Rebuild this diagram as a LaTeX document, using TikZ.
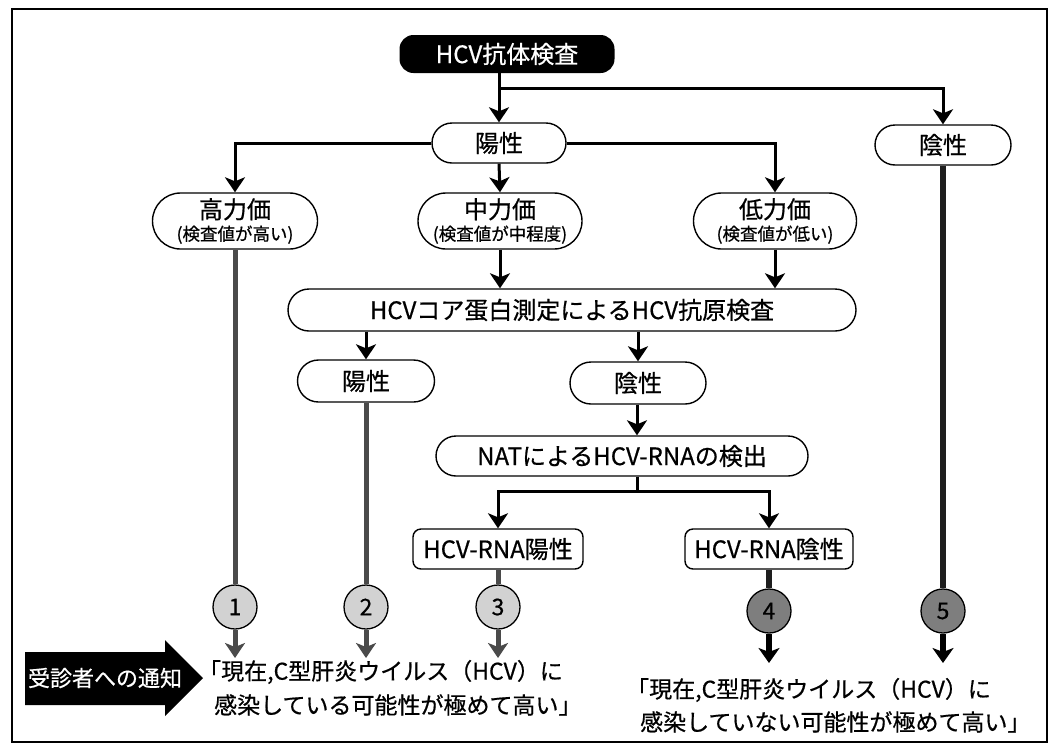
\documentclass[tikz,border=0pt]{standalone}
\usepackage{fontspec}
\setmainfont{Noto Sans CJK JP}[FakeBold=0.6]
\usetikzlibrary{arrows.meta,shapes.misc}
\definecolor{lightdot}{HTML}{D2D2D2}
\definecolor{darkdot}{HTML}{7E7E7E}
\definecolor{lightline}{HTML}{4A4A4A}
\definecolor{darkline}{HTML}{1E1E1E}
\begin{document}
\begin{tikzpicture}[x=1pt,y=-1pt,
  pill/.style={rounded rectangle, draw, line width=1.4pt, minimum height=40pt, inner sep=0pt, font=\fontsize{24}{26}\selectfont},
  tall/.style={pill, minimum height=56pt, align=center, font=\fontsize{24}{22}\selectfont},
  sq/.style={rectangle, rounded corners=8pt, draw, line width=1.4pt, minimum height=40pt, inner sep=0pt, font=\fontsize{24}{26}\selectfont},
  num/.style={circle, draw, line width=1.3pt, minimum size=44pt, inner sep=0pt, font=\fontsize{23}{24}\selectfont},
  conn/.style={line width=3pt, draw=black, -{Stealth[length=15pt,width=20pt,inset=4pt]}},
  plain/.style={line width=3pt, draw=black},
  lgray/.style={line width=5pt, draw=lightline},
  dgray/.style={line width=6.5pt, draw=darkline},
  lgraya/.style={lgray, -{Stealth[length=15pt,width=20pt,inset=4pt]}},
  dgraya/.style={dgray, draw=black, -{Stealth[length=15pt,width=21pt,inset=4pt]}},
  msg/.style={anchor=west, inner sep=0pt, font=\fontsize{23}{26}\selectfont}
]
\useasboundingbox (0,0) rectangle (1055,753);
\fill[white] (0,0) rectangle (1055,753);
\draw[line width=2pt] (12,9) rectangle (1047,742);

% nodes
\node[rectangle, rounded corners=14pt, fill=black, text=white, minimum width=215pt, minimum height=38pt, inner sep=0pt, font=\fontsize{24}{26}\selectfont] (top) at (507,54) {HCV抗体検査};
\node[pill, minimum width=134pt] (pos1) at (499,143) {陽性};
\node[pill, minimum width=136pt] (neg1) at (943,145) {陰性};
\node[tall, minimum width=165pt] (high) at (235,221) {高力価\\{\fontsize{17.5}{18}\selectfont (検査値が高い)}};
\node[tall, minimum width=164pt] (mid) at (500,221) {中力価\\{\fontsize{17.5}{18}\selectfont (検査値が中程度)}};
\node[tall, minimum width=163pt] (low) at (775,221) {低力価\\{\fontsize{17.5}{18}\selectfont (検査値が低い)}};
\node[pill, minimum width=568pt, minimum height=42pt] (core) at (572,310) {HCVコア蛋白測定によるHCV抗原検査};
\node[pill, minimum width=137pt, minimum height=42pt] (pos2) at (366,381) {陽性};
\node[pill, minimum width=136pt, minimum height=42pt] (neg2) at (638,383) {陰性};
\node[pill, minimum width=372pt] (nat) at (622,456) {NATによるHCV-RNAの検出};
\node[sq, minimum width=170pt] (rnapos) at (498,549) {HCV-RNA陽性};
\node[sq, minimum width=168pt] (rnaneg) at (769,549) {HCV-RNA陰性};

\node[num, fill=lightdot] (c1) at (235,607) {1};
\node[num, fill=lightdot] (c2) at (366,607) {2};
\node[num, fill=lightdot] (c3) at (498,607) {3};
\node[num, fill=darkdot] (c4) at (769,611) {4};
\node[num, fill=darkdot] (c5) at (943,611) {5};

\coordinate (j1) at (499,88);
\coordinate (j2) at (637,491);
\coordinate (t1) at (235,658);
\coordinate (t2) at (366,658);
\coordinate (t3) at (498,658);
\coordinate (t4) at (769,663);
\coordinate (t5) at (943,663);

% connectors
\draw[plain] (top.south -| j1) -- (j1);
\draw[conn] (j1) -- (pos1.north);
\draw[conn] (j1) -| (neg1.north);
\draw[conn] (pos1.west) -| (high.north);
\draw[conn] (pos1.east) -| (low.north);
\draw[conn] (pos1.south) -- (mid.north);
\draw[conn] (mid.south) -- (mid.south |- core.north);
\draw[conn] (low.south) -- (low.south |- core.north);
\draw[conn] (core.south -| pos2) -- (pos2.north);
\draw[conn] (core.south -| neg2) -- (neg2.north);
\draw[conn] (neg2.south -| j2) -- (nat.north -| j2);
\draw[plain] (nat.south -| j2) -- (j2);
\draw[conn] (j2) -| (rnapos.north);
\draw[conn] (j2) -| (rnaneg.north);

% result lines
\draw[lgray] (high.south) -- (c1.north);
\draw[lgray] (pos2.south) -- (c2.north);
\draw[lgray] (rnapos.south) -- (c3.north);
\draw[dgray] (rnaneg.south) -- (c4.north);
\draw[dgray] (neg1.south) -- (c5.north);
\draw[lgraya] (c1.south) -- (t1);
\draw[lgraya] (c2.south) -- (t2);
\draw[lgraya] (c3.south) -- (t3);
\draw[dgraya] (c4.south) -- (t4);
\draw[dgraya] (c5.south) -- (t5);

% notice arrow
\fill[black] (25,652) -- (165,652) -- (165,640) -- (203,678) -- (165,716) -- (165,705) -- (25,705) -- cycle;
\node[text=white, font=\fontsize{22}{26}\selectfont] (notice) at (105,678) {受診者への通知};

% messages
\node[msg] (m1a) at (198,672) {「現在,C型肝炎ウイルス（HCV）に};
\node[msg] (m1b) at (214,705) {感染している可能性が極めて高い」};
\node[msg] (m2a) at (626,690) {「現在,C型肝炎ウイルス（HCV）に};
\node[msg] (m2b) at (640,722) {感染していない可能性が極めて高い」};
\end{tikzpicture}
\end{document}
